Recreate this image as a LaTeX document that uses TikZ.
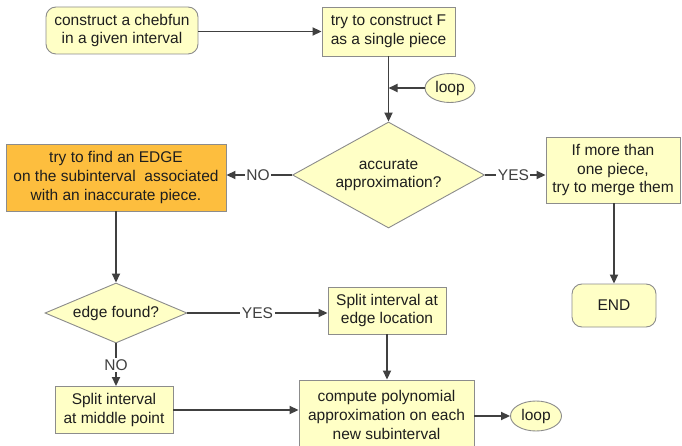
\documentclass[tikz,border=0pt]{standalone}
\usepackage{fontspec}
\setmainfont{Liberation Sans}
\usetikzlibrary{shapes.geometric,arrows.meta}
\definecolor{boxfill}{RGB}{255,255,198}
\definecolor{boxline}{RGB}{140,140,140}
\definecolor{orangefill}{RGB}{253,190,62}
\definecolor{arrowcol}{RGB}{64,64,64}
\definecolor{txt}{RGB}{30,30,30}
\begin{document}
\begin{tikzpicture}[x=1pt,y=-1pt,
  every node/.style={font=\fontsize{15.5}{18.7}\selectfont, text=txt, align=center},
  box/.style={draw=boxline, fill=boxfill, line width=0.9pt, inner sep=1pt},
  rbox/.style={box, rounded corners=10pt},
  dbox/.style={box, diamond, inner sep=0pt},
  ebox/.style={box, ellipse, inner sep=0pt},
  arr/.style={draw=arrowcol, line width=1.8pt, -{Triangle[length=9pt,width=8pt]}},
  lbl/.style={fill=white, inner sep=1.5pt, text=arrowcol}
]
\useasboundingbox (0,0) rectangle (682,446);
\fill[white] (0,0) rectangle (682,446);

\node[rbox, minimum width=152pt, minimum height=47pt] (start) at (122,30.5) {construct a chebfun\\in a given interval};
\node[box, minimum width=133pt, minimum height=49pt] (single) at (388.5,31.5) {try to construct F\\as a single piece};
\node[ebox, minimum width=50pt, minimum height=29pt] (loopa) at (450,88) {loop};
\node[dbox, aspect=1.8, minimum width=192pt, minimum height=106pt] (acc) at (388.5,175) {accurate\\approximation?};
\node[box, fill=orangefill, minimum width=220pt, minimum height=67pt] (edge) at (116,177.5) {try to find an EDGE\\on the subinterval\ \ associated\\with an inaccurate piece.};
\node[box, minimum width=134pt, minimum height=66pt] (merge) at (613,170) {If more than\\one piece,\\try to merge them};
\node[rbox, minimum width=84pt, minimum height=43pt] (end) at (614,305.5) {END};
\node[dbox, aspect=2.37, minimum width=142pt, minimum height=60pt] (found) at (116,313) {edge found?};
\node[box, minimum width=118pt, minimum height=47pt] (splitedge) at (387,310.5) {Split interval at\\edge location};
\node[box, minimum width=118pt, minimum height=47pt] (splitmid) at (114,410) {Split interval\\at middle point};
\node[box, minimum width=175pt, minimum height=70pt] (compute) at (386.5,415) {compute polynomial\\approximation on each\\new subinterval};
\node[ebox, minimum width=51pt, minimum height=30pt] (loopb) at (536,416) {loop};

\draw[arr] (start.east |- single.west) -- (single.west);
\draw[arr] (single.south) -- (acc.north);
\draw[arr] (loopa.west) -- (loopa.west -| single.south);
\draw[arr] (acc.west) -- node[lbl, pos=0.52] {NO} (acc.west -| edge.east);
\draw[arr] (acc.east) -- node[lbl, pos=0.47] {YES} (acc.east -| merge.west);
\draw[arr] (edge.south) -- (found.north);
\draw[arr] (merge.south -| end.north) -- (end.north);
\draw[arr] (found.east) -- node[lbl, pos=0.5] {YES} (found.east -| splitedge.west);
\draw[arr] (found.south) -- node[lbl, pos=0.5] {NO} (found.south |- splitmid.north);
\draw[arr] (splitedge.south) -- (splitedge.south |- compute.north);
\draw[arr] (splitmid.east) -- (splitmid.east -| compute.west);
\draw[arr] (compute.east |- loopb.west) -- (loopb.west);
\end{tikzpicture}
\end{document}
